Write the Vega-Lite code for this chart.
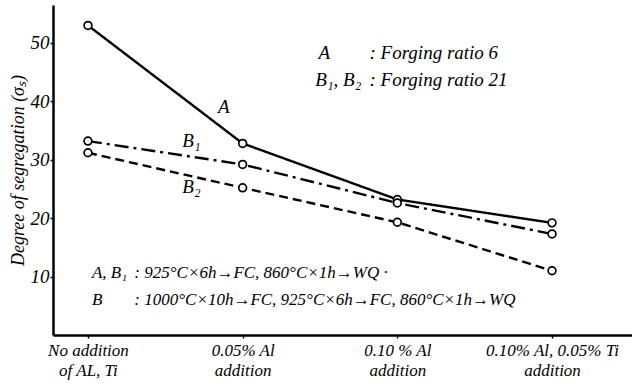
{
  "$schema": "https://vega.github.io/schema/vega-lite/v6.json",
  "width": 579,
  "height": 330,
  "autosize": {"type": "none"},
  "padding": {"left": 53, "top": 5, "right": 0, "bottom": 50},
  "background": "white",
  "config": {
    "view": {"stroke": null},
    "font": "Liberation Sans Narrow",
    "text": {"font": "Liberation Sans Narrow"}
  },
  "datasets": {
    "points": [
      {"idx": 0, "series": "A", "value": 53},
      {"idx": 1, "series": "A", "value": 32.8},
      {"idx": 2, "series": "A", "value": 23.2},
      {"idx": 3, "series": "A", "value": 19.2},
      {"idx": 0, "series": "B1", "value": 33.2},
      {"idx": 1, "series": "B1", "value": 29.2},
      {"idx": 2, "series": "B1", "value": 22.6},
      {"idx": 3, "series": "B1", "value": 17.3},
      {"idx": 0, "series": "B2", "value": 31.2},
      {"idx": 1, "series": "B2", "value": 25.2},
      {"idx": 2, "series": "B2", "value": 19.3},
      {"idx": 3, "series": "B2", "value": 11}
    ],
    "topnotes": [
      {"x": 1.49, "y": 48.3, "t": "A"},
      {"x": 1.82, "y": 48.3, "t": ": Forging ratio 6"},
      {"x": 1.47, "y": 43.7, "t": "B₁, B₂"},
      {"x": 1.82, "y": 43.7, "t": ": Forging ratio 21"}
    ],
    "bottomnotes": [
      {"x": 0.026, "y": 10.6, "t": "A, B₁"},
      {"x": 0.3, "y": 10.6, "t": ":  925°C×6h→FC, 860°C×1h→WQ ·"},
      {"x": 0.026, "y": 6.0, "t": "B"},
      {"x": 0.3, "y": 6.0, "t": ": 1000°C×10h→FC, 925°C×6h→FC, 860°C×1h→WQ"}
    ],
    "linelabels": [
      {"x": 0.84, "y": 39, "t": "A"},
      {"x": 0.61, "y": 33.2, "t": "B₁"},
      {"x": 0.61, "y": 25.3, "t": "B₂"}
    ]
  },
  "layer": [
    {
      "data": {"name": "points"},
      "mark": {"type": "line", "color": "black", "strokeWidth": 2.4},
      "encoding": {
        "x": {
          "field": "idx",
          "type": "quantitative",
          "scale": {"domain": [-0.226, 3.517], "nice": false, "zero": false},
          "axis": {
            "values": [0, 1, 2, 3],
            "title": null,
            "grid": false,
            "labelExpr": "[['No addition','of AL, Ti'],['0.05% Al','addition'],['0.10 % Al','addition'],['0.10% Al, 0.05% Ti','addition']][datum.value]",
            "labelFont": "Liberation Sans Narrow",
            "labelFontStyle": "italic",
            "labelFontSize": 17,
            "labelLineHeight": 20,
            "labelColor": "black",
            "labelPadding": 4,
            "labelFlush": false,
            "labelOverlap": false,
            "domainColor": "black",
            "domainWidth": 2.5,
            "tickColor": "black",
            "tickSize": 3,
            "tickWidth": 1.5
          }
        },
        "y": {
          "field": "value",
          "type": "quantitative",
          "scale": {"domain": [0, 56.5], "nice": false},
          "axis": {
            "values": [10, 20, 30, 40, 50],
            "title": "Degree of segregation (σₛ)",
            "titleFont": "Liberation Sans Narrow",
            "titleFontStyle": "italic",
            "titleFontWeight": "normal",
            "titleFontSize": 18,
            "titleColor": "black",
            "titlePadding": 3,
            "grid": false,
            "labelFont": "Liberation Sans Narrow",
            "labelFontStyle": "italic",
            "labelFontSize": 19,
            "labelColor": "black",
            "labelPadding": 1,
            "domainColor": "black",
            "domainWidth": 2.5,
            "tickColor": "black",
            "tickSize": 3,
            "tickWidth": 1.5
          }
        },
        "detail": {"field": "series"},
        "strokeDash": {
          "field": "series",
          "type": "nominal",
          "scale": {"domain": ["A", "B1", "B2"], "range": [[1, 0], [14, 5, 3, 5], [9, 5]]},
          "legend": null
        }
      }
    },
    {
      "data": {"name": "points"},
      "mark": {"type": "point", "shape": "circle", "filled": true, "fill": "white", "stroke": "black", "strokeWidth": 1.7, "size": 60, "opacity": 1},
      "encoding": {
        "x": {"field": "idx", "type": "quantitative"},
        "y": {"field": "value", "type": "quantitative"}
      }
    },
    {
      "data": {"name": "topnotes"},
      "mark": {"type": "text", "align": "left", "baseline": "middle", "fontStyle": "italic", "fontSize": 19, "color": "black"},
      "encoding": {
        "x": {"field": "x", "type": "quantitative"},
        "y": {"field": "y", "type": "quantitative"},
        "text": {"field": "t"}
      }
    },
    {
      "data": {"name": "bottomnotes"},
      "mark": {"type": "text", "align": "left", "baseline": "middle", "fontStyle": "italic", "fontSize": 17, "color": "black"},
      "encoding": {
        "x": {"field": "x", "type": "quantitative"},
        "y": {"field": "y", "type": "quantitative"},
        "text": {"field": "t"}
      }
    },
    {
      "data": {"name": "linelabels"},
      "mark": {"type": "text", "align": "left", "baseline": "middle", "fontStyle": "italic", "fontSize": 19, "color": "black"},
      "encoding": {
        "x": {"field": "x", "type": "quantitative"},
        "y": {"field": "y", "type": "quantitative"},
        "text": {"field": "t"}
      }
    }
  ]
}
